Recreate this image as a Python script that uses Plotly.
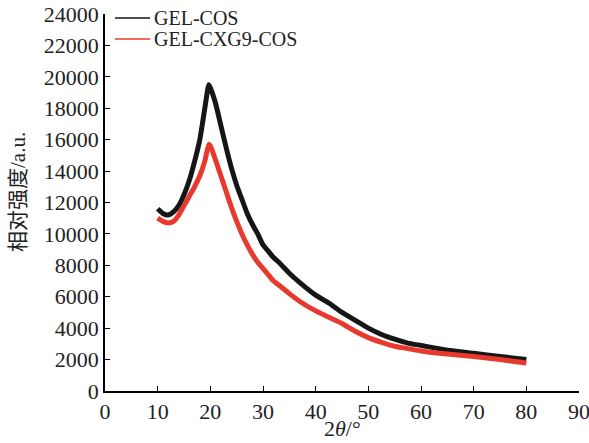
import plotly.graph_objects as go

# 2θ positions (degrees)
two_theta = [10, 11, 12, 13, 14, 15, 16, 17, 18, 19, 19.7, 20, 21, 22, 23, 24, 25, 26, 27, 28, 29,
             30, 31, 32, 33, 35, 37, 40, 42.5, 45, 47.5, 50, 52.5, 55, 57.5, 60, 65, 70, 75, 80]

gel_cos = [11600, 11300, 11200, 11400, 11800, 12500, 13400, 14600, 16000, 18100, 19500, 19300,
           18300, 16900, 15500, 14200, 13100, 12200, 11300, 10600, 10000,
           9300, 8900, 8500, 8200, 7500, 6900, 6100, 5600, 5000, 4500, 4000, 3600, 3300, 3050,
           2900, 2600, 2400, 2200, 2000]

gel_cxg9_cos = [11000, 10800, 10700, 10800, 11200, 11800, 12400, 13000, 13700, 14700, 15700, 15600,
                14700, 13700, 12700, 11700, 10800, 10000, 9300, 8700, 8200,
                7800, 7400, 7000, 6750, 6200, 5700, 5100, 4700, 4300, 3800, 3400, 3100, 2850, 2700,
                2550, 2350, 2200, 2000, 1780]

series_names = ["GEL-COS", "GEL-CXG9-COS"]
series_colors = ["#161616", "#e8392e"]

x_ticks = [0, 10, 20, 30, 40, 50, 60, 70, 80, 90]
y_ticks = [0, 2000, 4000, 6000, 8000, 10000, 12000, 14000, 16000, 18000, 20000, 22000, 24000]

serif = "Liberation Serif, Times New Roman, Noto Sans CJK SC, serif"
txt = "#222"

fig = go.Figure()
for ys, nm, col in zip([gel_cos, gel_cxg9_cos], series_names, series_colors):
    fig.add_trace(go.Scatter(x=two_theta, y=ys, mode="lines", name=nm, showlegend=False,
                             line=dict(color=col, width=5, shape="spline", smoothing=0.5)))

axis_common = dict(showline=True, linecolor="black", linewidth=1.5, ticks="inside",
                   ticklen=5, tickwidth=1.2, tickcolor="black", showgrid=False, zeroline=False,
                   automargin=False, ticklabeloverflow="allow",
                   tickfont=dict(family=serif, size=22, color=txt))

# Plot area on screen: x 105..579, y 14..391 px.
W, H = 474.0, 377.0
def px(xs):
    return (xs - 105) / W
def py(ys):
    return (391 - ys) / H

shapes = []
annotations = []
for i, (nm, col) in enumerate(zip(series_names, series_colors)):
    yy = py(18 + 21 * i)
    shapes.append(dict(type="line", xref="paper", yref="paper", x0=px(115), x1=px(150),
                       y0=yy, y1=yy, line=dict(color=col, width=1.6)))
    annotations.append(dict(xref="paper", yref="paper", x=px(152), y=yy, xanchor="left",
                            yanchor="middle", text=nm, showarrow=False,
                            font=dict(family=serif, size=20, color=txt)))

annotations.append(dict(xref="paper", yref="paper", x=px(18), y=py(192), xanchor="center",
                        yanchor="middle", text="相对强度/a.u.", textangle=-90, showarrow=False,
                        font=dict(family=serif, size=21, color=txt)))
annotations.append(dict(xref="paper", yref="paper", x=px(342), y=py(428), xanchor="center",
                        yanchor="middle", text="2<i>θ</i>/°", showarrow=False,
                        font=dict(family=serif, size=22, color=txt)))

fig.update_layout(
    width=589, height=443,
    margin=dict(l=105, r=10, t=14, b=52),
    paper_bgcolor="white", plot_bgcolor="white",
    showlegend=False,
    shapes=shapes,
    annotations=annotations,
    xaxis=dict(range=[0, 90], tickvals=x_ticks, ticktext=[str(v) for v in x_ticks], **axis_common),
    yaxis=dict(range=[0, 24000], tickvals=y_ticks, ticktext=[str(v) for v in y_ticks], **axis_common),
)

fig.write_html("out.html", config={"displayModeBar": False},
               post_script="document.body.style.margin='0';document.body.style.overflow='hidden';")
